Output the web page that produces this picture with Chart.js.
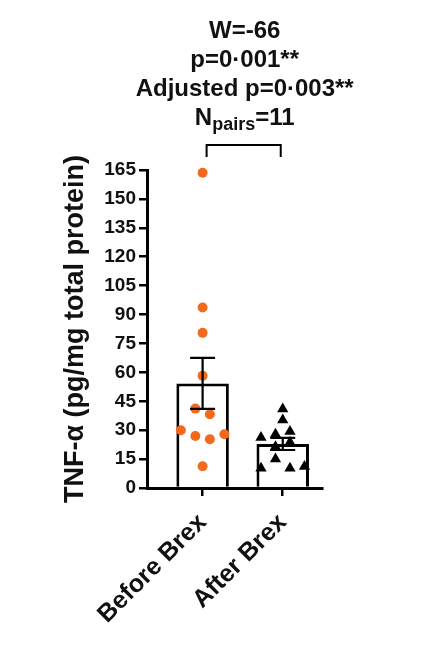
<!DOCTYPE html>
<html>
<head>
<meta charset="utf-8">
<script src="https://cdn.jsdelivr.net/npm/chart.js@4.4.1/dist/chart.umd.min.js"></script>
<style>
html,body{margin:0;padding:0;background:#fff;}
#wrap{width:430px;height:662px;position:relative;}
canvas{display:block;}
</style>
</head>
<body>
<div id="wrap"><canvas id="c" width="430" height="662"></canvas></div>
<script>
// ---- data ----
const categories = ['Before Brex', 'After Brex'];
const beforeValues = [163.6, 93.7, 80.5, 58.2, 41.2, 38.3, 27.0, 25.3, 30.0, 27.9, 11.3];
const afterValues  = [41.0, 35.3, 27.9, 29.3, 26.2, 23.8, 21.4, 15.1, 10.2, 10.2, 11.1];
const yTickValues = [0, 15, 30, 45, 60, 75, 90, 105, 120, 135, 150, 165];
const statLines = ['W=-66', 'p=0\u00B7001**', 'Adjusted p=0\u00B7003**'];
const nPairsText = { main: 'N', sub: 'pairs', tail: '=11' };
const yTitle = 'TNF-\u03B1 (pg/mg total protein)';

// ---- helpers ----
const FONT = '"Liberation Sans", Arial, Helvetica, sans-serif';
const mean = a => a.reduce((s, v) => s + v, 0) / a.length;
const sem = a => {
  const m = mean(a);
  const sd = Math.sqrt(a.reduce((s, v) => s + (v - m) * (v - m), 0) / (a.length - 1));
  return sd / Math.sqrt(a.length);
};
const groups = [beforeValues, afterValues];

// beeswarm-like horizontal spreading computed from the chart's own scales
function swarmOffsets(values, yScale, pxPerUnit) {
  const D = 10, HALF = 7.25;
  const px = values.map(v => yScale.getPixelForValue(v));
  const order = values.map((v, i) => i).sort((a, b) => px[a] - px[b]);
  const clusterId = new Array(values.length);
  let cid = 0;
  order.forEach((idx, k) => {
    if (k > 0 && px[idx] - px[order[k - 1]] >= D) cid++;
    clusterId[idx] = cid;
  });
  const sizes = {};
  clusterId.forEach(c => { sizes[c] = (sizes[c] || 0) + 1; });
  const cands = [];
  for (let k = 0; k < 6; k++) { const o = (2 * k + 1) * HALF; cands.push(-o, o); }
  const placed = [];
  const off = new Array(values.length).fill(0);
  values.forEach((v, i) => {
    if (sizes[clusterId[i]] > 1) {
      for (const c of cands) {
        if (placed.every(([x, y]) => Math.hypot(x - c, y - px[i]) >= D)) { off[i] = c; break; }
      }
    }
    placed.push([off[i], px[i]]);
  });
  return off.map(o => o / pxPerUnit);
}

const annotate = {
  id: 'annotate',
  afterDatasetsDraw(chart) {
    const { ctx, scales: { x, y } } = chart;
    ctx.save();
    ctx.strokeStyle = '#000';
    ctx.lineWidth = 2.2;
    groups.forEach((vals, i) => {
      const m = mean(vals), e = sem(vals);
      const cx = x.getPixelForValue(i);
      const yt = y.getPixelForValue(m + e), yb = y.getPixelForValue(m - e);
      ctx.beginPath();
      ctx.moveTo(cx, yt); ctx.lineTo(cx, yb);
      ctx.moveTo(cx - 12.5, yt); ctx.lineTo(cx + 12.5, yt);
      ctx.moveTo(cx - 12.5, yb); ctx.lineTo(cx + 12.5, yb);
      ctx.stroke();
    });
    ctx.restore();
  },
  afterDraw(chart) {
    const { ctx, scales: { x } } = chart;
    const x0 = x.getPixelForValue(0), x1 = x.getPixelForValue(1);
    const cx = (x0 + x1) / 2 + 2;
    ctx.save();
    // bracket
    ctx.strokeStyle = '#000';
    ctx.lineWidth = 2;
    ctx.beginPath();
    ctx.moveTo(x0 + 4, 157); ctx.lineTo(x0 + 4, 145); ctx.lineTo(x1 - 2, 145); ctx.lineTo(x1 - 2, 157);
    ctx.stroke();
    // stats text
    ctx.fillStyle = '#111';
    ctx.textAlign = 'center';
    ctx.textBaseline = 'alphabetic';
    ctx.font = 'bold 24px ' + FONT;
    const base = [38, 67, 96];
    statLines.forEach((t, i) => ctx.fillText(t, cx, base[i]));
    // N_pairs line with subscript
    const bigF = 'bold 24px ' + FONT, smallF = 'bold 18px ' + FONT;
    ctx.font = bigF; const wN = ctx.measureText(nPairsText.main).width; const wT = ctx.measureText(nPairsText.tail).width;
    ctx.font = smallF; const wS = ctx.measureText(nPairsText.sub).width;
    let sx = cx - (wN + wS + wT) / 2;
    ctx.textAlign = 'left';
    ctx.font = bigF; ctx.fillText(nPairsText.main, sx, 125); sx += wN;
    ctx.font = smallF; ctx.fillText(nPairsText.sub, sx, 130); sx += wS;
    ctx.font = bigF; ctx.fillText(nPairsText.tail, sx, 125);
    ctx.restore();
  }
};

const chart = new Chart(document.getElementById('c'), {
  type: 'bar',
  data: {
    datasets: [
      {
        type: 'scatter',
        label: categories[0],
        data: beforeValues.map(v => ({ x: 0, y: v })),
        pointStyle: 'circle',
        pointRadius: 5,
        pointBackgroundColor: '#F26A1E',
        pointBorderColor: '#F26A1E',
        pointBorderWidth: 0,
        clip: false,
        order: 1
      },
      {
        type: 'scatter',
        label: categories[1],
        data: afterValues.map(v => ({ x: 1, y: v })),
        pointStyle: 'triangle',
        pointRadius: 6.5,
        pointBackgroundColor: '#000',
        pointBorderColor: '#000',
        pointBorderWidth: 0,
        clip: false,
        order: 1
      },
      {
        type: 'bar',
        label: 'Mean',
        data: groups.map((vals, i) => ({ x: i, y: mean(vals) })),
        backgroundColor: '#fff',
        borderColor: '#000',
        borderWidth: 3,
        borderSkipped: 'start',
        categoryPercentage: 1,
        barPercentage: 0.655,
        order: 2
      }
    ]
  },
  options: {
    responsive: false,
    animation: false,
    events: [],
    layout: { padding: { top: 170, right: 108, bottom: 0, left: 0 } },
    plugins: { legend: { display: false }, tooltip: { enabled: false }, title: { display: false } },
    scales: {
      x: {
        type: 'linear',
        offset: false,
        min: -0.694,
        max: 1.49,
        afterBuildTicks: ax => { ax.ticks = [{ value: 0 }, { value: 1 }]; },
        afterFit: ax => { ax.height = 174; },
        grid: { offset: false, drawOnChartArea: false, drawTicks: true, tickLength: 8, color: '#000', lineWidth: 2.5 },
        border: { display: true, color: '#000', width: 3 },
        ticks: {
          autoSkip: false,
          minRotation: 45,
          maxRotation: 45,
          padding: 12,
          color: '#111',
          font: { family: FONT, size: 25, weight: 'bold' },
          callback: v => categories[v] ?? ''
        }
      },
      y: {
        type: 'linear',
        min: 0,
        max: 165,
        afterBuildTicks: ax => { ax.ticks = yTickValues.map(v => ({ value: v })); },
        afterFit: ax => { ax.width = 147; },
        grid: { drawOnChartArea: false, drawTicks: true, tickLength: 8, color: '#000', lineWidth: 2.5 },
        border: { display: true, color: '#000', width: 3 },
        ticks: {
          padding: 3,
          color: '#111',
          font: { family: FONT, size: 19, weight: 'bold' }
        },
        title: {
          display: true,
          text: yTitle,
          color: '#111',
          font: { family: FONT, size: 27, weight: 'bold' },
          padding: { top: 59, bottom: 0 }
        }
      }
    }
  },
  plugins: [annotate]
});

// spread points horizontally using the library's scales
(function spread() {
  const x = chart.scales.x, y = chart.scales.y;
  const pxPerUnit = x.getPixelForValue(1) - x.getPixelForValue(0);
  groups.forEach((vals, i) => {
    const offs = swarmOffsets(vals, y, pxPerUnit);
    chart.data.datasets[i].data = vals.map((v, k) => ({ x: i + offs[k], y: v }));
  });
  chart.update('none');
})();
</script>
</body>
</html>
